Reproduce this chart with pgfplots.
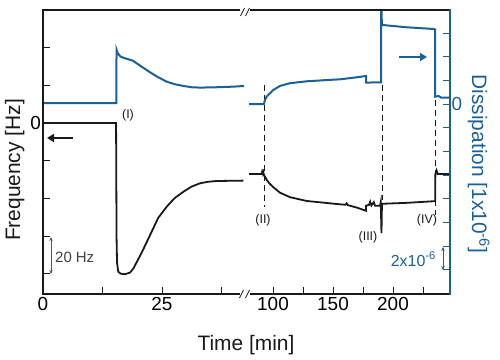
\documentclass[border=0pt]{standalone}
\usepackage{pgfplots}
\pgfplotsset{compat=1.18}
\usepackage{pgfplotstable}
\usepackage{fontspec}
\setmainfont{Liberation Sans}
\usetikzlibrary{arrows.meta}
\definecolor{dblue}{RGB}{28,96,152}
\definecolor{lblack}{RGB}{25,25,25}

\pgfplotstableread{
t f
0 0
15.35 0
15.45 -60
15.55 -74
15.8 -78.9
16.3 -80
17.2 -80.3
18.3 -79.4
19.0 -77.2
20.7 -69
22.5 -59.5
24.2 -50.4
26.0 -44.4
27.7 -39.8
29.5 -36.5
31.2 -33.8
33.0 -32.0
34.7 -31.2
36.5 -30.8
42.1 -30.6
}\freqA

\pgfplotstableread{
t d
0 0.07
15.4 0.07
15.45 4.6
15.7 4.3
16.3 4.0
17.2 3.87
18.9 3.66
20.7 3.16
22.5 2.68
24.2 2.26
26.0 1.89
27.7 1.67
29.5 1.53
31.2 1.42
33.0 1.39
36.5 1.42
40.0 1.47
42.4 1.53
}\dissA

\pgfplotstableread{
t f
79.2 -27.1
90.5 -27.1
91.0 -25.8
91.6 -27.0
92.0 -26.2
92.3 -27.3
93.3 -28.5
94.7 -30.2
97.5 -32.4
100.3 -34.1
105.8 -37.0
114.2 -39.4
128 -41.4
142 -42.3
156 -43.2
160.5 -43.4
161.4 -42.6
162.3 -43.6
169.7 -44.9
177.5 -46.6
177.6 -43.9
180 -43.5
181 -41.8
182 -43.8
184 -42
185 -43.9
189.2 -43.9
189.8 -42
190.4 -58.5
190.8 -42.9
211.4 -42.4
235.2 -41.5
235.3 -27.1
236.3 -25.2
237.3 -27.1
247.5 -27.1
}\freqB

\pgfplotstableread{
t d
79.2 0.0
92.4 0.0
93.3 0.35
94.7 0.63
97.5 0.91
100.3 1.19
105.8 1.53
114 1.76
128 1.92
142 2.01
156 2.09
169.7 2.26
177.5 2.37
177.6 1.81
189.2 1.84
190.1 1.84
190.2 7.95
190.5 7.95
190.7 6.68
211.4 6.48
233.6 6.34
235.0 6.3
235.2 0.63
238 0.68
240 0.55
247.5 0.54
}\dissB

\pgfplotsset{
  brk/.style={
    scale only axis, height=284bp, anchor=south west,
    axis line style={draw=none},
    tick align=inside, major tick length=7bp,
    ticklabel style={font=\fontsize{19}{22}\selectfont},
    /pgf/number format/assume math mode=true,
  },
}

\begin{document}
\begin{tikzpicture}
\useasboundingbox (0bp,0bp) rectangle (500bp,360bp);

% ---------- segment A: frequency ----------
\begin{axis}[brk, at={(43bp,66bp)}, width=201bp,
  xmin=0, xmax=42.23, ymin=-90.8, ymax=60,
  xtick={0,12.5,25,37.5}, xticklabels={0,,25,},
  ytick={-80,-60,-40,-20,0,20,40}, yticklabels={,,,,0,,},
  xtick pos=bottom, ytick pos=left,
  major tick style={lblack, line width=0.8bp},
  yticklabel style={xshift=1.5bp},
]
\addplot[lblack, line width=1.8bp] table[x=t,y=f] {\freqA};
\end{axis}

% ---------- segment A: dissipation ----------
\begin{axis}[brk, at={(43bp,66bp)}, width=201bp,
  xmin=0, xmax=42.23, ymin=-16.03, ymax=7.94,
  ticks=none,
]
\addplot[dblue, line width=2bp] table[x=t,y=d] {\dissA};
\end{axis}

% ---------- segment B: frequency ----------
\begin{axis}[brk, at={(249bp,66bp)}, width=201bp,
  xmin=80.0, xmax=247.5, ymin=-90.8, ymax=60,
  xtick={100,125,150,175,200,225}, xticklabels={100,,150,,200,},
  ytick=\empty, xtick pos=bottom,
  major tick style={lblack, line width=0.8bp},
]
\addplot[lblack, line width=1.8bp] table[x=t,y=f] {\freqB};
\draw[lblack, line width=0.9bp, dash pattern=on 6bp off 4bp] (axis cs:92.5,20.2) -- (axis cs:92.5,-44.6);
\draw[lblack, line width=0.9bp, dash pattern=on 6bp off 4bp] (axis cs:190.8,20.2) -- (axis cs:190.8,-40.9);
\draw[lblack, line width=0.9bp, dash pattern=on 6bp off 4bp] (axis cs:235.6,12.2) -- (axis cs:235.6,-48.8);
\end{axis}

% ---------- segment B: dissipation ----------
\begin{axis}[brk, at={(249bp,66bp)}, width=201bp,
  xmin=80.0, xmax=247.5, ymin=-16.03, ymax=7.94,
  xtick=\empty,
  ytick={-14,-12,-10,-8,-6,-4,-2,0,2,4,6}, yticklabels={,,,,,,,0,,,},
  ytick pos=right, yticklabel pos=right,
  major tick style={dblue, line width=0.9bp},
  yticklabel style={dblue, xshift=-2bp},
]
\addplot[dblue, line width=2bp] table[x=t,y=d] {\dissB};
\end{axis}

\begin{scope}[x=1bp,y=1bp]
% ---------- frame ----------
\draw[lblack, line width=1.3bp] (240,350) -- (43,350) -- (43,66) -- (240,66);
\draw[lblack, line width=1.3bp] (250,350) -- (450,350);
\draw[lblack, line width=1.3bp] (250,66) -- (450,66);
\draw[dblue, line width=2.4bp] (450,65.4) -- (450,350.6);
% break marks
\draw[lblack, line width=0.8bp] (240.5,344) -- (244.5,352) (245.5,344) -- (249.5,352);
\draw[lblack, line width=0.8bp] (239.5,62) -- (243.5,70) (245.5,62) -- (249.5,70);

% ---------- annotations ----------
\draw[lblack, line width=2.4bp, -{Triangle[length=7bp,width=8bp]}] (73,222) -- (47,222);
\draw[dblue, line width=2.4bp, -{Triangle[length=7bp,width=8bp]}] (399,303) -- (427,303);

\draw[black!65, line width=0.8bp, {Stealth[length=4bp,width=3.5bp]}-{Stealth[length=4bp,width=3.5bp]}] (51,123) -- (51,86);
\node[anchor=base west, inner sep=0, black!75, font=\fontsize{15}{17}\selectfont] at (55,98) {20 Hz};

\draw[dblue, line width=0.8bp, {Stealth[length=4bp,width=3.5bp]}-{Stealth[length=4bp,width=3.5bp]}] (443,113) -- (443,90);
\node[anchor=base east, inner sep=0, dblue, font=\fontsize{16}{18}\selectfont] at (436,94) {2x10\textsuperscript{-6}};

\node[anchor=base, inner sep=0, lblack, font=\fontsize{12.5}{14}\selectfont] at (128,242) {(I)};
\node[anchor=base, inner sep=0, lblack, font=\fontsize{12.5}{14}\selectfont] at (263,136.5) {(II)};
\node[anchor=base, inner sep=0, lblack, font=\fontsize{12.5}{14}\selectfont] at (368,119.5) {(III)};
\node[anchor=base, inner sep=0, lblack, font=\fontsize{12.5}{14}\selectfont] at (427,136.5) {(IV)};

% ---------- axis labels ----------
\node[rotate=90, anchor=base, inner sep=0, lblack, font=\fontsize{21}{24}\selectfont] at (20,190) {Frequency [Hz]};
\node[rotate=-90, anchor=base, inner sep=0, dblue, font=\fontsize{21}{24}\selectfont] at (472,196) {Dissipation [1x10\textsuperscript{-6}]};
\node[anchor=base, inner sep=0, lblack, font=\fontsize{21}{24}\selectfont] at (246,10) {Time [min]};
\end{scope}
\end{tikzpicture}
\end{document}
